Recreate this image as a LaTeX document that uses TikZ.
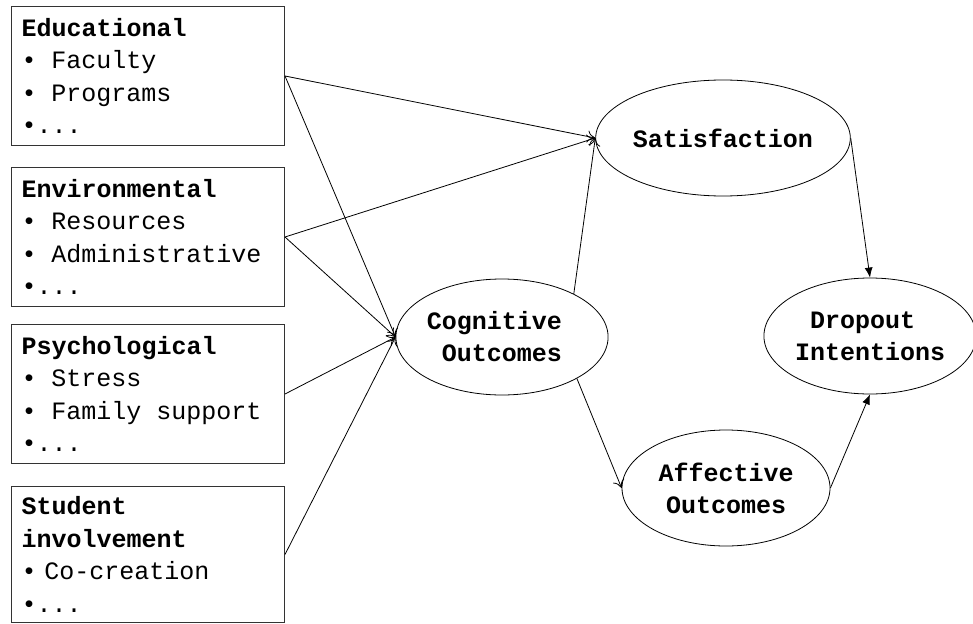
\documentclass[tikz,border=0pt]{standalone}
\usepackage{fontspec}
\setmonofont{Liberation Mono}
\usetikzlibrary{arrows.meta,positioning,shapes.geometric}
\newcommand{\boxfont}{\ttfamily\fontsize{25}{32.5}\selectfont}
\newcommand{\ovalfont}{\ttfamily\bfseries\fontsize{25}{32}\selectfont}
\newcommand{\bul}{\makebox[30pt][l]{•}}
\newcommand{\gap}{\kern15pt}

\begin{document}
\begin{tikzpicture}[x=1pt,y=-1pt,
  factor/.style={draw=black!80,line width=1pt,anchor=north west,text width=253pt,inner xsep=10pt,minimum height=139pt,align=left,font=\boxfont},
  latent/.style={draw,ellipse,line width=0.8pt,minimum width=208pt,minimum height=116pt,inner sep=0pt,align=center,font=\ovalfont},
  link/.style={-{To[length=8pt,width=12pt]},line width=0.8pt},
  solidlink/.style={-{Latex[length=10pt,width=8pt]},line width=0.8pt}]

\useasboundingbox (0,0) rectangle (973,623);

% antecedents
\node[factor] (edu) at (11,6) {\textbf{Educational}\\\bul Faculty\\\bul Programs\\•...};
\node[factor] (env) at (11,167) {\textbf{Environmental}\\\bul Resources\\\bul Administrative\\•...};
\node[factor] (psy) at (11,324) {\textbf{Psychological}\\\bul Stress\\\bul Family\gap support\\•...};
\node[factor,minimum height=136pt] (inv) at (11,486) {\textbf{Student}\\\textbf{involvement}\\\makebox[23pt][l]{•}Co-creation\\•...};

% outcomes
\node[latent] (cog) at (502,337) {Cognitive\gap\\\gap Outcomes\gap};
\node[latent] (sat) at (723,138) {Satisfaction};
\node[latent] (aff) at (726,488) {Affective\\Outcomes};
\node[latent,minimum width=204pt,align=left] (drop) at (870,336) {\gap Dropout\\Intentions};

\draw[link] (edu.east) -- (sat.west);
\draw[link] (edu.east) -- (cog.west);
\draw[link] (env.east) -- (sat.west);
\draw[link] (env.east) -- (cog.west);
\draw[link] (psy.east) -- (cog.west);
\draw[link] (inv.east) -- (cog.west);
\draw[link] (cog.31) -- (sat.west);
\draw[link] (cog.-29) -- (aff.west);
\draw[solidlink] (sat.east) -- (drop.north);
\draw[solidlink] (aff.east) -- (drop.south);
\end{tikzpicture}
\end{document}
